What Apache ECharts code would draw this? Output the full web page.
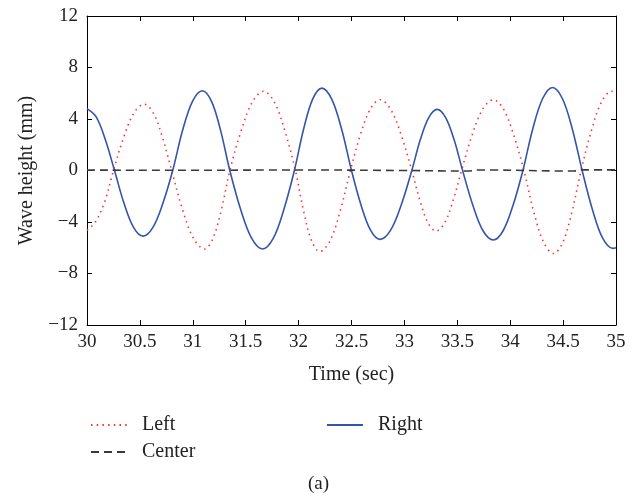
<!DOCTYPE html>
<html>
<head>
<meta charset="utf-8">
<script src="https://cdn.jsdelivr.net/npm/echarts@6/dist/echarts.min.js"></script>
<style>html,body{margin:0;padding:0;background:#fff;}#c{width:637px;height:496px;}</style>
</head>
<body>
<div id="c"></div>
<script>
var xTicks = [30, 30.5, 31, 31.5, 32, 32.5, 33, 33.5, 34, 34.5, 35];
var yTicks = [-12, -8, -4, 0, 4, 8, 12];

var leftT = [30.00, 30.08, 30.17, 30.25, 30.347, 30.443, 30.54, 30.627, 30.713, 30.80, 30.903, 31.007, 31.11, 31.19, 31.27, 31.35, 31.457, 31.563, 31.67, 31.77, 31.87, 31.97, 32.047, 32.123, 32.20, 32.297, 32.393, 32.49, 32.583, 32.677, 32.77, 32.87, 32.97, 33.07, 33.147, 33.223, 33.30, 33.38, 33.46, 33.54, 33.64, 33.74, 33.84, 33.937, 34.033, 34.13, 34.223, 34.317, 34.41, 34.497, 34.583, 34.67, 34.767, 34.863, 34.96, 35.00];
var leftV = [-4.65, -4.0, -2.35, 0, 2.58, 4.46, 5.15, 4.46, 2.58, 0, -3.05, -5.28, -6.1, -5.28, -3.05, 0, 3.08, 5.33, 6.15, 5.33, 3.08, 0, -3.15, -5.46, -6.3, -5.46, -3.15, 0, 2.75, 4.76, 5.5, 4.76, 2.75, 0, -2.35, -4.07, -4.7, -4.07, -2.35, 0, 2.75, 4.76, 5.5, 4.76, 2.75, 0, -3.23, -5.59, -6.45, -5.59, -3.23, 0, 3.08, 5.33, 6.15, 6.1];

var rightT = [30.00, 30.087, 30.173, 30.26, 30.35, 30.44, 30.53, 30.623, 30.717, 30.81, 30.903, 30.997, 31.09, 31.177, 31.263, 31.35, 31.453, 31.557, 31.66, 31.76, 31.86, 31.96, 32.047, 32.133, 32.22, 32.313, 32.407, 32.50, 32.59, 32.68, 32.77, 32.87, 32.97, 33.07, 33.15, 33.23, 33.31, 33.39, 33.47, 33.55, 33.647, 33.743, 33.84, 33.933, 34.027, 34.12, 34.213, 34.307, 34.40, 34.493, 34.587, 34.68, 34.777, 34.873, 34.97, 35.00];
var rightV = [4.8, 4.16, 2.4, 0, -2.55, -4.42, -5.1, -4.42, -2.55, 0, 3.1, 5.37, 6.2, 5.37, 3.1, 0, -3.05, -5.28, -6.1, -5.28, -3.05, 0, 3.2, 5.54, 6.4, 5.54, 3.2, 0, -2.68, -4.63, -5.35, -4.63, -2.68, 0, 2.38, 4.11, 4.75, 4.11, 2.38, 0, -2.7, -4.68, -5.4, -4.68, -2.7, 0, 3.23, 5.59, 6.45, 5.59, 3.23, 0, -3.03, -5.24, -6.05, -6.0];

var centerT = [30, 31, 32, 33, 33.6, 33.7, 34.6, 34.7, 35];
var centerV = [0.03, 0.02, 0.04, 0.0, -0.04, 0.04, -0.04, 0.05, 0.05];

function pairs(t, v) { return t.map(function (x, i) { return [x, v[i]]; }); }

var FONT = '"Liberation Serif", "DejaVu Serif", serif';
var chart = echarts.init(document.getElementById('c'), null, {renderer: 'canvas'});

var axisCommon = {
  axisLine: {show: true, onZero: false, lineStyle: {color: '#000', width: 1}},
  axisTick: {show: true, inside: true, length: 5, lineStyle: {color: '#000'}},
  splitLine: {show: false}
};

var legendText = {fontFamily: FONT, fontSize: 20, color: '#222', padding: [0, 0, 0, 10]};

chart.setOption({
  animation: false,
  backgroundColor: '#fff',
  grid: {left: 87, right: 21, top: 16, bottom: 171, containLabel: false},
  title: {
    text: '(a)', left: 'center', top: 470,
    textStyle: {fontFamily: FONT, fontSize: 19, fontWeight: 'normal', color: '#222'}
  },
  legend: [
    {
      data: ['Left', 'Center'], orient: 'vertical', left: 85, top: 410,
      itemWidth: 36, itemHeight: 10, itemGap: 7,
      itemStyle: {opacity: 0},
      textStyle: legendText
    },
    {
      data: ['Right'], orient: 'vertical', left: 321, top: 410,
      itemWidth: 36, itemHeight: 10,
      itemStyle: {opacity: 0},
      textStyle: legendText
    }
  ],
  xAxis: [
    Object.assign({}, axisCommon, {
      type: 'value', min: 30, max: 35, interval: 0.5, position: 'bottom',
      name: 'Time (sec)', nameLocation: 'middle', nameGap: 40,
      nameTextStyle: {fontFamily: FONT, fontSize: 20, color: '#222'},
      axisLabel: {
        margin: 8, fontFamily: FONT, fontSize: 19, color: '#222',
        formatter: function (v) { return xTicks.indexOf(v) >= 0 ? String(v) : ''; }
      }
    }),
    Object.assign({}, axisCommon, {
      type: 'value', min: 30, max: 35, interval: 0.5, position: 'top',
      axisLabel: {show: false}
    })
  ],
  yAxis: [
    Object.assign({}, axisCommon, {
      type: 'value', min: -12, max: 12, interval: 4, position: 'left',
      name: 'Wave height (mm)', nameLocation: 'middle', nameGap: 50,
      nameTextStyle: {fontFamily: FONT, fontSize: 20, color: '#222'},
      axisLabel: {
        margin: 9, fontFamily: FONT, fontSize: 19, color: '#222',
        formatter: function (v) {
          if (yTicks.indexOf(v) < 0) return '';
          return v < 0 ? '\u2212' + Math.abs(v) : String(v);
        }
      }
    }),
    Object.assign({}, axisCommon, {
      type: 'value', min: -12, max: 12, interval: 4, position: 'right',
      axisLabel: {show: false}
    })
  ],
  series: [
    {
      name: 'Left', type: 'line', xAxisIndex: 0, yAxisIndex: 0,
      data: pairs(leftT, leftV), smooth: 0.35, showSymbol: false, symbol: 'none',
      lineStyle: {color: '#ff3030', width: 1.6, type: [1.5, 4.2]},
      itemStyle: {color: '#ff3030'}
    },
    {
      name: 'Right', type: 'line', xAxisIndex: 0, yAxisIndex: 0,
      data: pairs(rightT, rightV), smooth: 0.35, showSymbol: false, symbol: 'none',
      lineStyle: {color: '#3555a8', width: 1.6, type: 'solid'},
      itemStyle: {color: '#3555a8'}
    },
    {
      name: 'Center', type: 'line', xAxisIndex: 0, yAxisIndex: 0,
      data: pairs(centerT, centerV), smooth: true, showSymbol: false, symbol: 'none',
      lineStyle: {color: '#3a3a3a', width: 1.6, type: [8, 5]},
      itemStyle: {color: '#3a3a3a'}
    }
  ]
});
</script>
</body>
</html>
